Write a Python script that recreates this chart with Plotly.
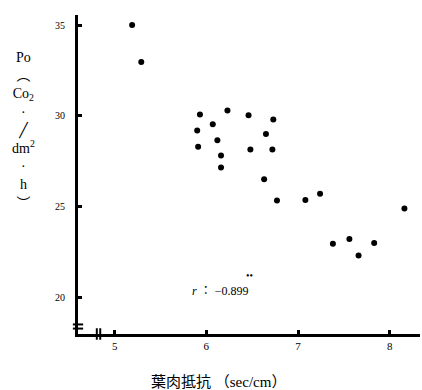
import plotly.graph_objects as go

# Data
resistance = [5.19, 5.29, 5.93, 6.23, 6.46, 6.73, 6.07, 5.90, 6.65, 6.12, 5.91,
              6.48, 6.72, 6.16, 6.16, 6.63, 7.24, 6.77, 7.08, 8.16, 7.38, 7.56,
              7.66, 7.83]
po = [35.0, 32.97, 30.07, 30.29, 30.04, 29.8, 29.54, 29.19, 29.01, 28.66, 28.30,
      28.15, 28.15, 27.82, 27.16, 26.52, 25.71, 25.35, 25.37, 24.91, 22.97, 23.22,
      22.32, 23.0]
x_ticks = [5, 6, 7, 8]
y_ticks = [20, 25, 30, 35]
r_label = "<i>r</i> ： −0.899"

serif = "Liberation Serif, DejaVu Serif, Noto Sans CJK JP"

fig = go.Figure()
fig.add_trace(go.Scatter(
    x=resistance, y=po, mode="markers",
    marker=dict(color="black", size=6),
    showlegend=False, hoverinfo="skip"))

fig.update_layout(
    width=422, height=390,
    margin=dict(l=78, r=2, t=15, b=56),
    paper_bgcolor="white", plot_bgcolor="white",
    font=dict(family=serif, color="black", size=11),
    xaxis=dict(range=[4.6, 8.33], tickvals=x_ticks, ticktext=[str(v) for v in x_ticks],
               showgrid=False, zeroline=False, showline=True, linecolor="black",
               linewidth=3, ticks="inside", ticklen=4, tickwidth=3, tickcolor="black",
               tickfont=dict(family=serif, size=11, color="black")),
    yaxis=dict(range=[18.0, 35.55], tickvals=y_ticks, ticktext=[str(v) for v in y_ticks],
               showgrid=False, zeroline=False, showline=True, linecolor="black",
               linewidth=3, ticks="inside", ticklen=4, tickwidth=3, tickcolor="black",
               tickfont=dict(family=serif, size=10, color="black"), ticklabelstandoff=8),
)

# axis break marks
fig.add_shape(type="line", xref="paper", yref="paper", x0=-0.015, x1=0.015,
              y0=0.03, y1=0.03, line=dict(color="black", width=2))
fig.add_shape(type="line", xref="paper", yref="paper", x0=-0.015, x1=0.015,
              y0=0.017, y1=0.017, line=dict(color="black", width=2))
fig.add_shape(type="line", xref="paper", yref="paper", x0=0.055, x1=0.055,
              y0=-0.018, y1=0.018, line=dict(color="black", width=2))
fig.add_shape(type="line", xref="paper", yref="paper", x0=0.065, x1=0.065,
              y0=-0.018, y1=0.018, line=dict(color="black", width=2))

# y title (vertical stacked)
fig.add_annotation(
    xref="paper", yref="paper", x=-0.158, y=0.895, xanchor="center", yanchor="top",
    text="Po<br>︵<br>Co<sub>2</sub><br>·<br>╱<br>dm<sup>2</sup><br>·<br>h<br>︶",
    showarrow=False, align="center",
    font=dict(family=serif, size=14, color="black"))

# x title
fig.add_annotation(
    xref="paper", yref="paper", x=0.41, y=-0.118, xanchor="center", yanchor="top",
    text="葉肉抵抗 （sec/cm）", showarrow=False,
    font=dict(family=serif, size=15, color="black"))

# correlation text
fig.add_annotation(x=6.15, y=20.35, text=r_label, showarrow=False,
                   font=dict(family=serif, size=12, color="black"))
fig.add_annotation(x=6.47, y=21.2, text="••", showarrow=False,
                   font=dict(family=serif, size=10, color="black"))

fig.write_html("out.html", config={"displayModeBar": False},
               post_script="document.body.style.margin='0';document.body.style.overflow='hidden';")
